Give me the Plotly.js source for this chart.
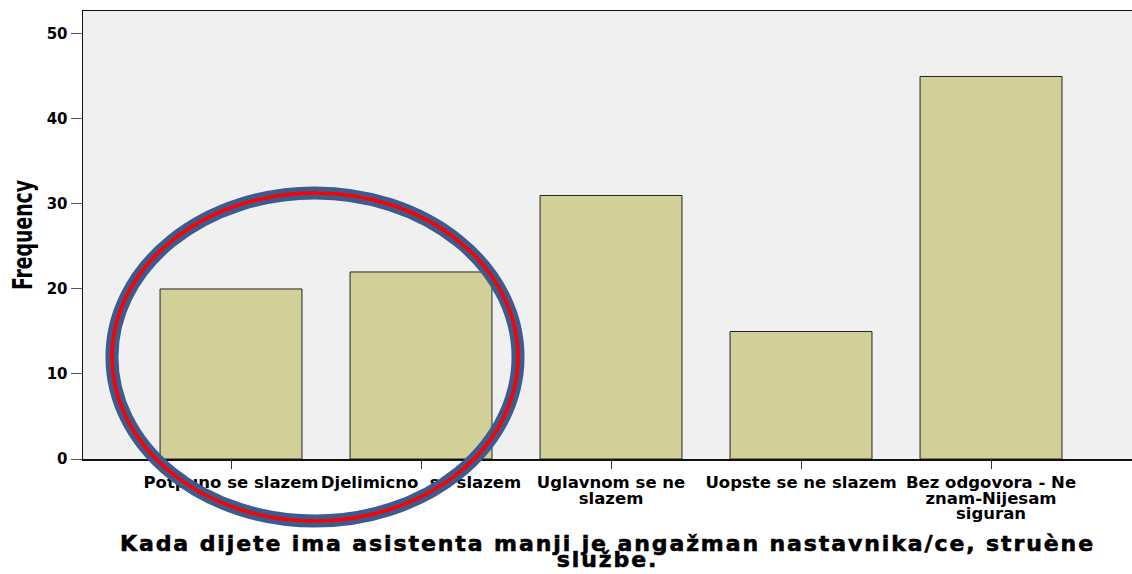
<!DOCTYPE html>
<html><head><meta charset="utf-8">
<script src="https://cdn.plot.ly/plotly-3.0.1.min.js"></script>
<style>
html,body{margin:0;padding:0;background:#fff}
#chart{width:1132px;height:574px}
.g-xtitle text{stroke:#000;stroke-width:0.6px;letter-spacing:1.9px}
</style>
</head><body><div id="chart"></div>
<script>
const categories = ["Potpuno se slazem", "Djelimicno\u00a0 se slazem", "Uglavnom se ne<br>slazem", "Uopste se ne slazem", "Bez odgovora - Ne<br>znam-Nijesam<br>siguran"];
const frequencies = [20, 22, 31, 15, 45];
const yTicks = [0, 10, 20, 30, 40, 50];
const xTitle = "Kada dijete ima asistenta manji je angažman nastavnika/ce, struène<br>službe.";
const yTitle = "Frequency";

const trace = {
  type: 'bar',
  x: categories.map((c, i) => i),
  y: frequencies,
  width: 0.747,
  marker: {color: '#D3CF98', line: {color: '#222', width: 1}},
  hoverinfo: 'none'
};

const layout = {
  width: 1132, height: 574,
  margin: {l: 83, r: 0, t: 11, b: 115},
  paper_bgcolor: '#ffffff',
  plot_bgcolor: '#F0F0F0',
  showlegend: false,
  font: {family: 'DejaVu Sans, Verdana, sans-serif', color: '#000'},
  xaxis: {
    range: [-0.779, 4.742],
    tickmode: 'array',
    tickvals: categories.map((c, i) => i),
    ticktext: categories,
    ticks: 'outside', ticklen: 8, tickcolor: '#333', tickwidth: 1,
    showgrid: false, zeroline: false,
    showline: true, linecolor: '#111', linewidth: 1.5, mirror: true,
    tickfont: {size: 16.5, color: '#000', family: 'DejaVu Sans, Verdana, sans-serif', weight: 'bold'},
    title: {text: xTitle, font: {size: 22, color: '#000', family: 'DejaVu Sans, Verdana, sans-serif', weight: 'bold'}, standoff: 0}
  },
  yaxis: {
    range: [0, 52.7],
    tickmode: 'array',
    tickvals: yTicks,
    ticks: 'outside', ticklen: 11, tickcolor: '#555', tickwidth: 1,
    showgrid: false, zeroline: false,
    showline: true, linecolor: '#111', linewidth: 1.5,
    tickfont: {size: 15, color: '#000', family: 'DejaVu Sans, Verdana, sans-serif', weight: 'bold'},
    title: {text: yTitle, font: {size: 26, color: '#000', family: 'Liberation Sans Narrow, Arial Narrow, DejaVu Sans Condensed, sans-serif', weight: 'bold'}, standoff: 6}
  },
  shapes: [
    {type: 'circle', xref: 'paper', yref: 'paper', x0: 0.0276, x1: 0.4147, y0: -0.1384, y1: 0.5938,
     line: {color: '#3D5B8C', width: 13}, layer: 'above'},
    {type: 'circle', xref: 'paper', yref: 'paper', x0: 0.0276, x1: 0.4147, y0: -0.1384, y1: 0.5938,
     line: {color: '#FF0000', width: 3.5}, layer: 'above'}
  ]
};

const gd = document.getElementById('chart');
Plotly.newPlot(gd, [trace], layout, {displayModeBar: false, staticPlot: true}).then(() => {
  // tighter line spacing for multi-line tick labels (as in the reference)
  gd.querySelectorAll('.xtick text tspan.line').forEach(t => {
    const dy = parseFloat(t.getAttribute('dy')) || 0;
    t.setAttribute('dy', (dy * 0.94 / 1.3) + 'em');
  });
  // tighter line spacing for the x-axis title, and move it down a little
  gd.querySelectorAll('.g-xtitle text tspan.line').forEach(t => {
    const dy = parseFloat(t.getAttribute('dy')) || 0;
    t.setAttribute('dy', (dy * 0.72 / 1.3) + 'em');
  });
  const xt = gd.querySelector('.g-xtitle text');
  if (xt) {
    const tr = xt.getAttribute('transform') || '';
    xt.setAttribute('transform', (tr + ' translate(0,11)').trim());
  }
  // narrow y title
  const yt = gd.querySelector('.g-ytitle text');
  if (yt) {
    yt.setAttribute('textLength', '110');
    yt.setAttribute('lengthAdjust', 'spacingAndGlyphs');
  }
});
</script>
</body></html>
